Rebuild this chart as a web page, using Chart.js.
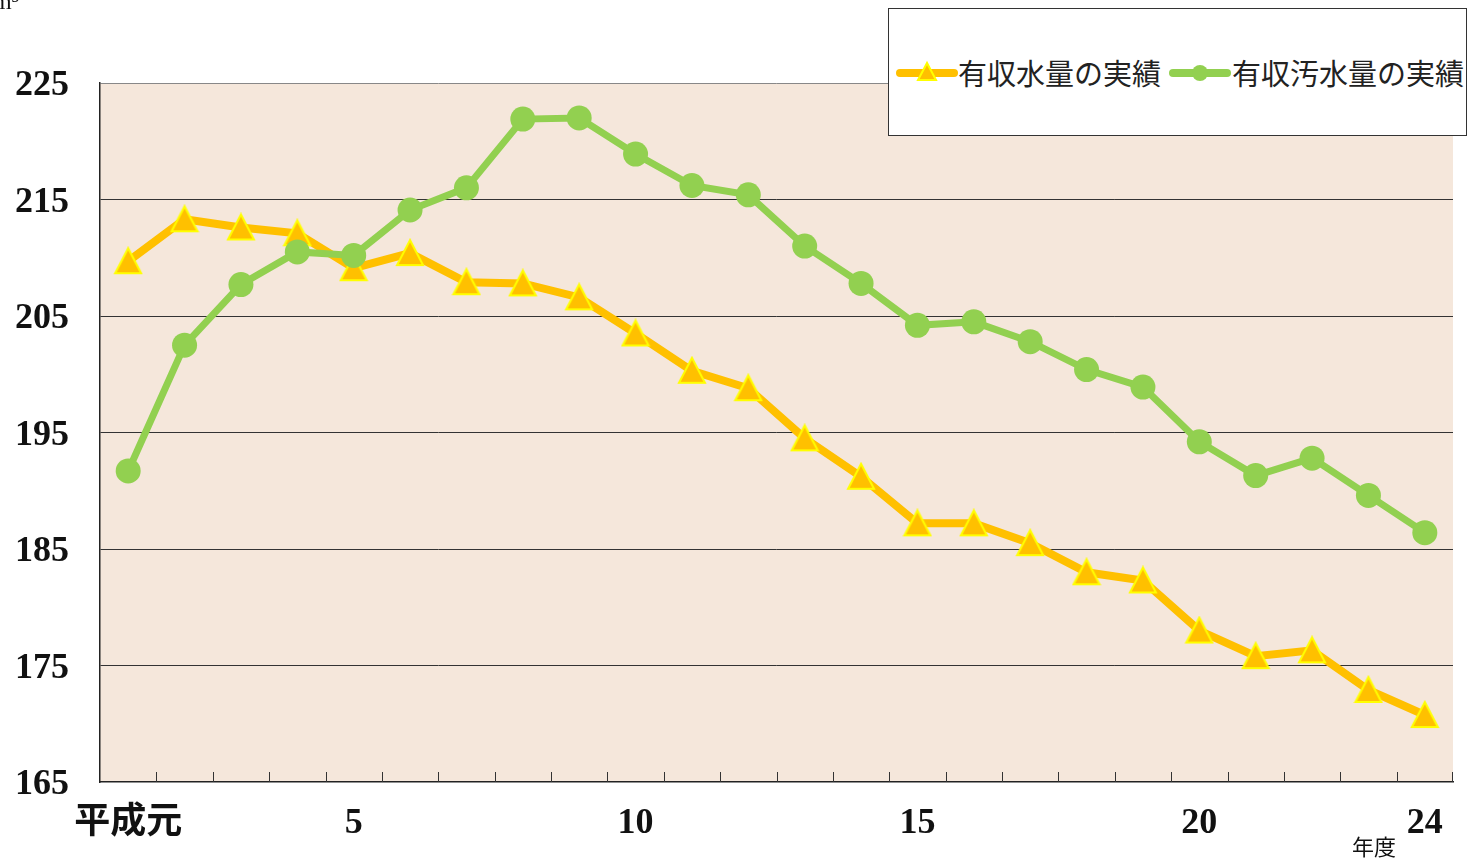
<!DOCTYPE html>
<html>
<head>
<meta charset="utf-8">
<script src="https://cdn.jsdelivr.net/npm/chart.js@4/dist/chart.umd.min.js"></script>
<style>
  html, body { margin: 0; padding: 0; background: #fff; overflow: hidden; }
  #wrap { position: relative; width: 1483px; height: 858px; }
  #chart { position: absolute; left: 0; top: 0; }
  .note { position: absolute; font-family: "Liberation Serif", "Noto Sans CJK JP", serif; color: #111; white-space: nowrap; }
  #legend { position: absolute; left: 888px; top: 8px; width: 577px; height: 126px; border: 1px solid #333; background: #fff; }
  #legend .item { position: absolute; top: 47px; font: 29px "Noto Sans CJK JP", sans-serif; line-height: 32px; color: #222; white-space: nowrap; }
  #legend svg { position: absolute; top: 49px; }
</style>
</head>
<body>
<div id="wrap">
  <canvas id="chart" width="1483" height="858"></canvas>
  <div class="note" style="left:-7px; top:-12px; font-size:24px;">m³</div>
  <div class="note" style="left:1352px; top:829px; font: 22px 'Noto Sans CJK JP', sans-serif;">年度</div>
  <div id="legend">
    <svg style="left:7px" width="62" height="30">
      <line x1="4" y1="15" x2="58" y2="15" stroke="#FFC000" stroke-width="8" stroke-linecap="round"/>
      <polygon points="31,5 22,22 40,22" fill="#FFC000" stroke="#FFFF00" stroke-width="2"/>
    </svg>
    <div class="item" style="left:69px">有収水量の実績</div>
    <svg style="left:280px" width="62" height="30">
      <line x1="4" y1="15" x2="58" y2="15" stroke="#92D050" stroke-width="8" stroke-linecap="round"/>
      <circle cx="31" cy="15" r="8" fill="#92D050"/>
    </svg>
    <div class="item" style="left:343px">有収汚水量の実績</div>
  </div>
</div>
<script>
(() => {
    const years = ['平成元', '2', '3', '4', '5', '6', '7', '8', '9', '10', '11', '12',
        '13', '14', '15', '16', '17', '18', '19', '20', '21', '22', '23', '24'];
    const shownLabels = ['平成元', '5', '10', '15', '20', '24'];

    // 有収水量の実績
    const waterVolume = [209.7, 213.3, 212.6, 212.1, 209.1, 210.4, 207.9, 207.8, 206.6, 203.5, 200.3, 198.8,
        194.5, 191.2, 187.2, 187.2, 185.5, 183.0, 182.3, 178.0, 175.8, 176.3, 172.9, 170.75];
    // 有収汚水量の実績
    const sewageVolume = [191.7, 202.5, 207.7, 210.5, 210.2, 214.1, 216.0, 221.9, 222.0, 218.9, 216.2, 215.4,
        211.0, 207.8, 204.2, 204.5, 202.8, 200.4, 198.9, 194.2, 191.3, 192.8, 189.6, 186.4];

    const yMin = 165, yMax = 225, yStep = 10;

    // triangle marker centred on its bounding box, like the original
    const tri = document.createElement('canvas');
    tri.width = 30; tri.height = 30;
    const tctx = tri.getContext('2d');
    tctx.beginPath();
    tctx.moveTo(15, 2);
    tctx.lineTo(28, 27);
    tctx.lineTo(2, 27);
    tctx.closePath();
    tctx.fillStyle = '#FFC000';
    tctx.fill();
    tctx.lineWidth = 2;
    tctx.strokeStyle = '#FFFF00';
    tctx.stroke();

    const plotBg = {
        id: 'plotBg',
        beforeDraw(chart) {
            const { ctx, chartArea: a } = chart;
            ctx.save();
            ctx.fillStyle = '#F5E7DB';
            ctx.fillRect(a.left, a.top, a.right - a.left, a.bottom - a.top);
            ctx.restore();
        }
    };

    // small inward tick marks between the categories
    const innerTicks = {
        id: 'innerTicks',
        afterDraw(chart) {
            const { ctx, chartArea: a } = chart;
            const x = chart.scales.x;
            ctx.save();
            ctx.strokeStyle = '#333';
            ctx.lineWidth = 1;
            ctx.beginPath();
            for (let i = 1; i <= years.length; i++) {
                const px = i < years.length
                    ? Math.round((x.getPixelForValue(i - 1) + x.getPixelForValue(i)) / 2) + 0.5
                    : a.right - 0.5;
                ctx.moveTo(px, a.bottom);
                ctx.lineTo(px, a.bottom - 10);
            }
            ctx.stroke();
            ctx.restore();
        }
    };

    new Chart(document.getElementById('chart').getContext('2d'), {
        type: 'line',
        data: {
            labels: years,
            datasets: [
                {
                    label: '有収水量の実績',
                    data: waterVolume,
                    borderColor: '#FFC000',
                    borderWidth: 8,
                    pointStyle: tri,
                    pointRadius: 14,
                    tension: 0,
                    order: 2
                },
                {
                    label: '有収汚水量の実績',
                    data: sewageVolume,
                    borderColor: '#92D050',
                    borderWidth: 7,
                    pointStyle: 'circle',
                    pointRadius: 12.5,
                    pointBackgroundColor: '#92D050',
                    pointBorderWidth: 0,
                    tension: 0,
                    order: 1
                }
            ]
        },
        options: {
            responsive: false,
            animation: false,
            layout: { padding: { top: 83, right: 30, bottom: 0, left: 0 } },
            plugins: { legend: { display: false }, tooltip: { enabled: false } },
            scales: {
                x: {
                    offset: true,
                    afterFit: s => { s.height = 76; },
                    grid: { display: false },
                    border: { color: '#222', width: 1.5 },
                    ticks: {
                        autoSkip: false,
                        maxRotation: 0,
                        padding: 12,
                        color: '#111',
                        font: { family: '"Liberation Serif", "Noto Sans CJK JP", serif', size: 36, weight: 'bold' },
                        callback: function (v) {
                            const lbl = this.getLabelForValue(v);
                            return shownLabels.includes(lbl) ? lbl : '';
                        }
                    }
                },
                y: {
                    min: yMin,
                    max: yMax,
                    afterFit: s => { s.width = 100; },
                    grid: {
                        drawTicks: false,
                        color: c => c.tick.value === yMax ? '#888' : (c.tick.value === yMin ? 'rgba(0,0,0,0)' : '#333'),
                        lineWidth: 1
                    },
                    border: { color: '#222', width: 1.5 },
                    ticks: {
                        stepSize: yStep,
                        padding: 31,
                        labelOffset: 3,
                        color: '#111',
                        font: { family: '"Liberation Serif", serif', size: 36, weight: 'bold' }
                    }
                }
            }
        },
        plugins: [plotBg, innerTicks]
    });
})();
</script>
</body>
</html>
